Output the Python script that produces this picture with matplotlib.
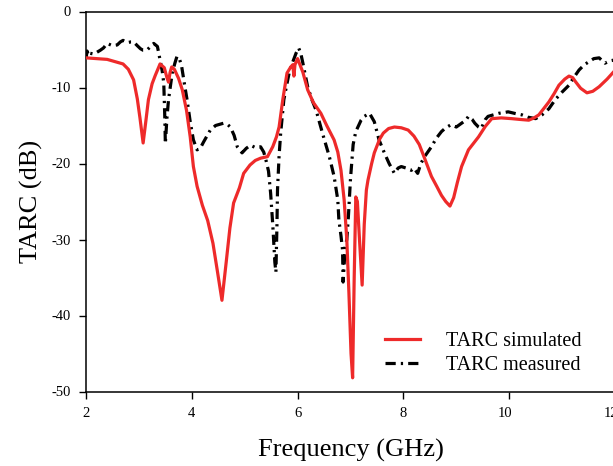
import matplotlib
matplotlib.use("Agg")
import matplotlib.pyplot as plt
import matplotlib.transforms as mtransforms

# Simulated TARC
sim_freq = [2.0, 2.2, 2.4, 2.55, 2.7, 2.8, 2.9, 2.97, 3.02, 3.08, 3.13, 3.18, 3.25, 3.31, 3.4,
            3.48, 3.53, 3.56, 3.59, 3.62, 3.67, 3.75, 3.82, 3.9, 3.97, 4.03, 4.1, 4.2, 4.3, 4.4,
            4.48, 4.57, 4.65, 4.72, 4.79, 4.9, 4.98, 5.1, 5.2, 5.3, 5.43, 5.53, 5.6, 5.65, 5.72,
            5.8, 5.87, 5.91, 5.93, 5.95, 6.0, 6.1, 6.19, 6.3, 6.44, 6.55, 6.69, 6.76, 6.82, 6.88,
            6.93, 6.97, 7.01, 7.04, 7.07, 7.1, 7.13, 7.17, 7.22, 7.26, 7.3, 7.33, 7.4, 7.45, 7.55,
            7.62, 7.72, 7.83, 7.96, 8.09, 8.2, 8.3, 8.4, 8.53, 8.63, 8.72, 8.8, 8.88, 8.95, 9.02,
            9.1, 9.23, 9.42, 9.55, 9.67, 9.85, 10.05, 10.2, 10.37, 10.47, 10.56, 10.65, 10.75, 10.85,
            10.94, 11.05, 11.13, 11.2, 11.25, 11.35, 11.47, 11.58, 11.7, 11.85, 11.98, 12.0]
sim_db = [-6.1, -6.2, -6.3, -6.6, -6.9, -7.6, -9.0, -11.5, -14.0, -17.3, -14.5, -11.6, -9.5, -8.4, -6.9,
          -7.4, -8.7, -9.3, -8.0, -7.3, -7.6, -8.8, -10.3, -13.0, -16.5, -20.4, -23.0, -25.5, -27.5, -30.5,
          -34.0, -38.0, -33.0, -28.5, -25.2, -23.2, -21.3, -20.2, -19.6, -19.3, -19.1, -17.8, -16.5, -15.2, -11.6,
          -8.1, -7.3, -7.0, -8.5, -7.0, -6.2, -8.0, -10.3, -12.0, -13.4, -15.0, -16.9, -18.5, -20.9, -24.8,
          -30.0, -37.0, -45.0, -48.2, -35.0, -24.4, -25.0, -30.0, -36.0, -28.0, -23.5, -22.2, -20.0, -18.6, -16.8,
          -16.0, -15.4, -15.2, -15.3, -15.6, -16.4, -17.5, -19.3, -21.7, -23.0, -24.2, -25.0, -25.6, -24.5, -22.5,
          -20.4, -18.2, -16.5, -15.1, -14.1, -14.0, -14.1, -14.2, -14.3, -14.0, -13.6, -12.8, -11.9, -10.8,
          -9.7, -8.9, -8.5, -8.7, -9.2, -10.1, -10.7, -10.5, -9.9, -8.9, -7.9, -7.8]

# Measured TARC
meas_freq = [2.0, 2.02, 2.05, 2.08, 2.15, 2.22, 2.27, 2.33, 2.4, 2.5, 2.59, 2.65, 2.7, 2.78, 2.85,
             2.9, 2.97, 3.03, 3.08, 3.15, 3.22, 3.28, 3.35, 3.4, 3.44, 3.47, 3.49, 3.5, 3.53, 3.56,
             3.63, 3.68, 3.72, 3.77, 3.81, 3.86, 3.91, 3.97, 4.03, 4.1, 4.16, 4.22, 4.3, 4.35, 4.45,
             4.55, 4.6, 4.68, 4.73, 4.8, 4.86, 4.95, 5.03, 5.11, 5.2, 5.3, 5.36, 5.4, 5.45, 5.49,
             5.53, 5.57, 5.59, 5.61, 5.62, 5.65, 5.68, 5.74, 5.79, 5.84, 5.9, 5.97, 6.02, 6.06, 6.1,
             6.19, 6.27, 6.35, 6.47, 6.6, 6.69, 6.76, 6.78, 6.82, 6.85, 6.86, 6.9, 6.93, 6.96, 7.0,
             7.05, 7.1, 7.14, 7.2, 7.26, 7.36, 7.45, 7.54, 7.64, 7.73, 7.83, 7.9, 7.96, 8.05, 8.15,
             8.2, 8.27, 8.33, 8.4, 8.53, 8.62, 8.72, 8.8, 8.9, 9.0, 9.1, 9.18, 9.23, 9.3, 9.35,
             9.42, 9.47, 9.55, 9.6, 9.7, 9.8, 9.9, 9.98, 10.1, 10.24, 10.35, 10.5, 10.62, 10.75, 10.87,
             11.0, 11.13, 11.22, 11.32, 11.42, 11.51, 11.6, 11.7, 11.81, 11.9, 11.98, 12.0]
meas_db = [-6.2, -5.2, -5.8, -5.5, -5.6, -5.3, -5.1, -4.8, -4.2, -4.5, -4.4, -4.0, -3.8, -4.1, -4.0,
           -4.0, -4.5, -4.9, -5.1, -5.1, -4.6, -4.2, -4.6, -6.4, -7.8, -9.4, -14.0, -17.4, -14.0, -11.6,
           -8.1, -6.8, -5.9, -6.3, -7.3, -9.5, -11.6, -14.5, -16.9, -18.2, -18.0, -17.2, -16.2, -15.6, -15.0,
           -14.8, -14.7, -14.9, -15.2, -16.3, -17.8, -18.6, -18.0, -17.6, -17.9, -17.8, -18.5, -19.5, -21.0, -23.9,
           -28.0, -33.0, -34.3, -28.0, -23.5, -19.0, -16.0, -11.6, -9.8, -8.1, -6.8, -5.5, -4.8, -5.5, -6.8,
           -9.9, -11.6, -13.0, -16.0, -19.1, -21.7, -24.8, -27.4, -29.5, -31.4, -35.6, -31.0, -30.0, -27.0, -22.0,
           -17.5, -15.8, -15.2, -14.3, -13.8, -13.4, -14.5, -16.9, -18.6, -20.0, -21.3, -20.6, -20.4, -20.6, -20.9,
           -20.6, -21.3, -20.0, -19.1, -17.8, -16.7, -15.8, -15.3, -14.9, -15.2, -14.7, -14.3, -13.8, -14.2, -14.7,
           -15.2, -15.4, -14.2, -13.8, -13.6, -13.4, -13.3, -13.2, -13.4, -13.6, -13.9, -14.1, -13.6, -12.8, -11.6,
           -10.6, -9.7, -8.7, -7.7, -7.0, -6.6, -6.2, -6.1, -6.8, -6.5, -6.4, -6.3]

x_ticks = [2, 4, 6, 8, 10, 12]
y_ticks = [0, -10, -20, -30, -40, -50]

plt.rcParams['font.family'] = ['Liberation Serif', 'DejaVu Serif']

W, H = 613, 466
fig = plt.figure(figsize=(W / 100, H / 100), dpi=100)
ax = fig.add_axes([86 / W, (H - 391.5) / H, (W - 86 + 2) / W, 380 / H])

ax.plot(sim_freq, sim_db, color='#ee2a2a', lw=2.3, label='TARC simulated', zorder=3)
ax.plot(meas_freq, meas_db, color='black', lw=2.3, linestyle=(0, (3.2, 1.6, 0.7, 1.6)),
        label='TARC measured', zorder=2)

ax.set_xlim(2, 12)
ax.set_ylim(-50, 0)
ax.set_xticks(x_ticks)
ax.set_yticks(y_ticks)
ax.set_xticklabels([str(t) for t in x_ticks])
ax.set_yticklabels([str(t) for t in y_ticks])
ax.tick_params(direction='out', length=5, width=1, labelsize=10.5, pad=6)
ax.spines['right'].set_visible(False)
for s in ['left', 'top', 'bottom']:
    ax.spines[s].set_linewidth(1.1)

# two-digit labels sit slightly left of their ticks in the reference
for lab in ax.get_xticklabels():
    if len(lab.get_text()) > 1:
        lab.set_transform(lab.get_transform() +
                          mtransforms.ScaledTranslation(-4 / 100, 0, fig.dpi_scale_trans))

ax.set_xlabel('Frequency (GHz)', fontsize=19, labelpad=14)
ax.set_ylabel('TARC (dB)', fontsize=19, labelpad=6)

leg = ax.legend(loc='upper left', bbox_to_anchor=(385 / W, 1 - 332 / H),
                bbox_transform=fig.transFigure, frameon=False, fontsize=14.5,
                borderpad=0, borderaxespad=0, handlelength=1.75, handletextpad=1.3,
                labelspacing=0.22)

fig.savefig('out.png', dpi=100)
